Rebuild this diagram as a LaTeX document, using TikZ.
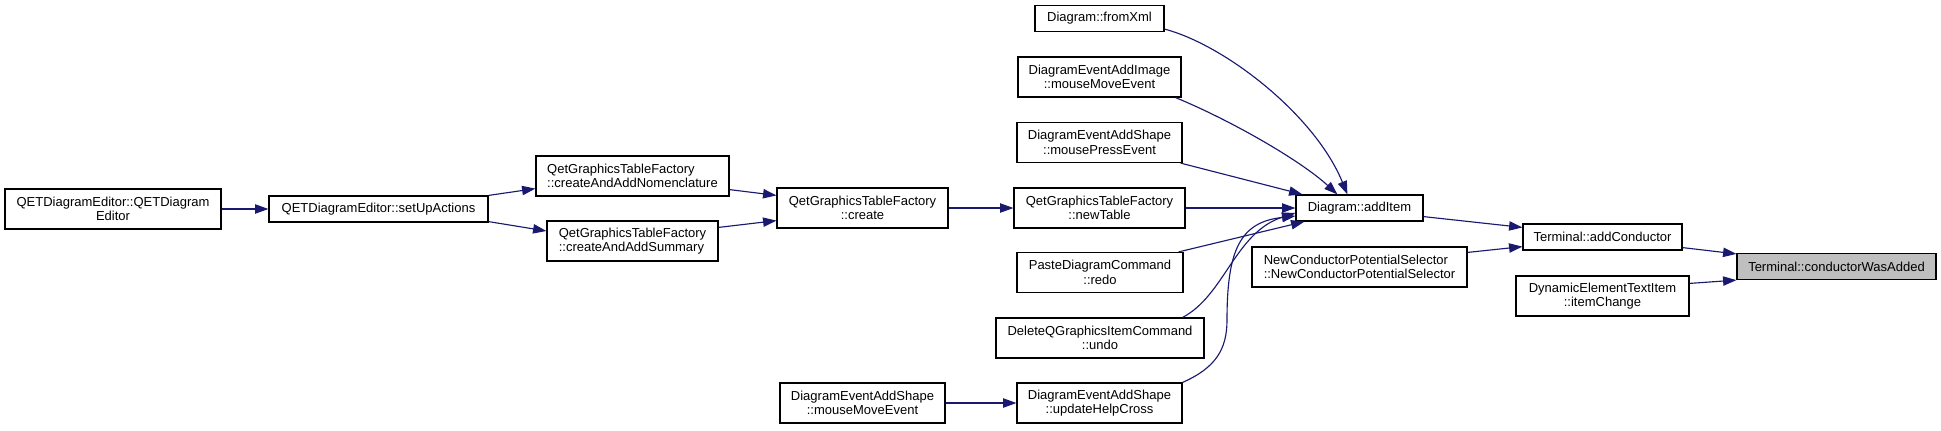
\documentclass[tikz,border=0pt]{standalone}
\usepackage{fontspec}
\setmainfont{Liberation Sans}
\usetikzlibrary{arrows.meta,calc}
\definecolor{edgec}{RGB}{25,25,112}
\definecolor{hl}{RGB}{191,191,191}
\begin{document}
\begin{tikzpicture}[x=0.75pt,y=-0.75pt,
  fn/.style={draw=black, line width=0.9pt, inner sep=0pt, align=center,
    font=\fontsize{9.75pt}{10.9pt}\selectfont, minimum height=30pt},
  fn1/.style={fn, minimum height=19.5pt},
  edge/.style={draw=edgec, line width=0.85pt, -{Triangle[length=10pt,width=7pt]}}
]
\useasboundingbox (0,0) rectangle (1941,430);

\node[fn, minimum width=162pt] (qde) at (113,209) {QETDiagramEditor::QETDiagram\\Editor};
\node[fn1, minimum width=164.25pt] (setup) at (378.5,209) {QETDiagramEditor::setUpActions};
\node[fn, minimum width=144.75pt, align=left] (nom) at (632.5,176) {QetGraphicsTableFactory\\::createAndAddNomenclature};
\node[fn, minimum width=128.25pt, align=left] (sum) at (632.5,241) {QetGraphicsTableFactory\\::createAndAddSummary};
\node[fn, minimum width=128.25pt] (create) at (862.5,208) {QetGraphicsTableFactory\\::create};
\node[fn1, minimum width=96.75pt] (fromxml) at (1099.5,18.5) {Diagram::fromXml};
\node[fn, minimum width=122.25pt] (addimage) at (1099.5,77) {DiagramEventAddImage\\::mouseMoveEvent};
\node[fn, minimum width=123.75pt] (presse) at (1099.5,142.5) {DiagramEventAddShape\\::mousePressEvent};
\node[fn, minimum width=128.25pt] (newtable) at (1099.5,208) {QetGraphicsTableFactory\\::newTable};
\node[fn, minimum width=124.5pt] (paste) at (1100,272.5) {PasteDiagramCommand\\::redo};
\node[fn, minimum width=156pt] (delete) at (1100,338) {DeleteQGraphicsItemCommand\\::undo};
\node[fn, minimum width=123.75pt] (helpcross) at (1099.5,403) {DiagramEventAddShape\\::updateHelpCross};
\node[fn, minimum width=123.75pt] (mme) at (862.5,403) {DiagramEventAddShape\\::mouseMoveEvent};
\node[fn1, minimum width=95.25pt] (additem) at (1359.5,208) {Diagram::addItem};
\node[fn, minimum width=161.25pt, align=left] (ncps) at (1359.5,267) {NewConductorPotentialSelector\\::NewConductorPotentialSelector};
\node[fn1, minimum width=119.25pt] (addcond) at (1602.5,237) {Terminal::addConductor};
\node[fn, minimum width=129.75pt] (dyn) at (1602.5,296) {DynamicElementTextItem\\::itemChange};
\node[fn1, minimum width=149.25pt, fill=hl] (cwa) at (1836.5,266.5) {Terminal::conductorWasAdded};

\draw[edge] (qde.east) -- (setup.west);
\draw[edge] (setup.north east) -- ($(nom.south west)+(0,-8)$);
\draw[edge] ($(setup.south east)+(0,-1)$) -- ($(sum.west)+(0,-10)$);
\draw[edge] ($(nom.south east)+(0,-7)$) -- ($(create.north west)+(0,8)$);
\draw[edge] ($(sum.north east)+(0,7)$) -- ($(create.south west)+(0,-8)$);
\draw[edge] (create.east) -- (newtable.west);
\draw[edge] (newtable.east) -- (additem.west);
\draw[edge] ($(fromxml.south east)+(0,-3)$) .. controls (1225,45) and (1315,115) .. ($(additem.north west)+(52,0)$);
\draw[edge] ($(addimage.south east)+(-6,0)$) .. controls (1230,120) and (1300,160) .. ($(additem.north west)+(42,0)$);
\draw[edge] ($(presse.south east)+(-2,0)$) -- ($(additem.north west)+(7,0)$);
\draw[edge] ($(paste.north east)+(-5,0)$) -- ($(additem.south west)+(9,0)$);
\draw[edge] ($(delete.north east)+(-22,0)$) .. controls (1225,295) and (1235,232) .. ($(additem.west)+(0,5)$);
\draw[edge] (helpcross.north east) .. controls (1215,368) and (1227,350) .. (1227,320)
  .. controls (1227,250) and (1240,222) .. ($(additem.west)+(0,8)$);
\draw[edge] (mme.east) -- (helpcross.west);
\draw[edge] ($(additem.south east)+(0,-5)$) -- ($(addcond.north west)+(0,4)$);
\draw[edge] ($(ncps.north east)+(0,6)$) -- ($(addcond.south west)+(0,-4)$);
\draw[edge] ($(addcond.south east)+(0,-3)$) -- ($(cwa.north west)+(0,1)$);
\draw[edge] ($(dyn.north east)+(0,8)$) -- (cwa.south west);
\end{tikzpicture}
\end{document}
